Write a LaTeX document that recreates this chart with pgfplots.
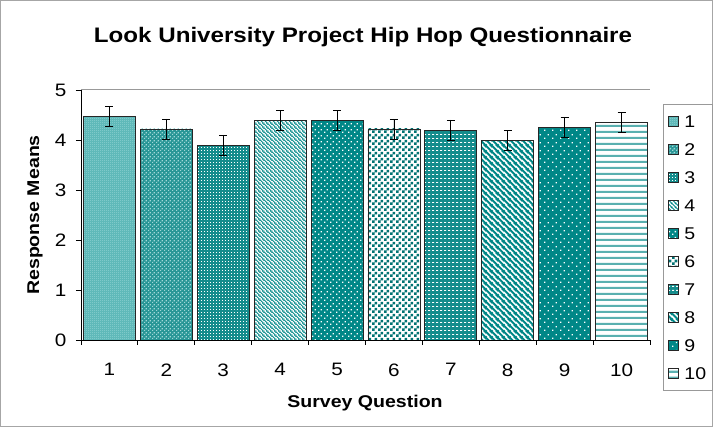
\documentclass[border=0pt]{standalone}
\usepackage{pgfplots}
\pgfplotsset{compat=1.18}
\usepackage{fontspec}
\setmainfont[FakeStretch=1.15]{Liberation Sans}
\usetikzlibrary{patterns}
\definecolor{T}{RGB}{0,135,135}
\definecolor{Ta}{RGB}{95,185,185}
\definecolor{Tap}{RGB}{170,225,225}
\definecolor{Tb}{RGB}{40,150,150}
\definecolor{Tbp}{RGB}{160,215,215}
\definecolor{Tc}{RGB}{20,140,140}
\definecolor{Tk}{RGB}{0,115,115}

\pgfdeclarepatternformonly{dfine}{\pgfqpoint{0pt}{0pt}}{\pgfqpoint{2pt}{2pt}}{\pgfqpoint{2pt}{2pt}}{\pgfpathrectangle{\pgfqpoint{0pt}{0pt}}{\pgfqpoint{1pt}{1pt}}\pgfusepath{fill}}
\pgfdeclarepatternformonly{ddiam}{\pgfqpoint{0pt}{0pt}}{\pgfqpoint{4pt}{4pt}}{\pgfqpoint{4pt}{4pt}}{\pgfpathrectangle{\pgfqpoint{0pt}{0pt}}{\pgfqpoint{1.5pt}{1.5pt}}\pgfpathrectangle{\pgfqpoint{2pt}{2pt}}{\pgfqpoint{1.5pt}{1.5pt}}\pgfusepath{fill}}
\pgfdeclarepatternformonly{dgrid}{\pgfqpoint{0pt}{0pt}}{\pgfqpoint{3pt}{3pt}}{\pgfqpoint{3pt}{3pt}}{\pgfpathrectangle{\pgfqpoint{0pt}{0pt}}{\pgfqpoint{1pt}{1pt}}\pgfusepath{fill}}
\pgfdeclarepatternformonly{dmid}{\pgfqpoint{0pt}{0pt}}{\pgfqpoint{6pt}{6pt}}{\pgfqpoint{6pt}{6pt}}{\pgfpathrectangle{\pgfqpoint{0pt}{0pt}}{\pgfqpoint{1.5pt}{1.5pt}}\pgfpathrectangle{\pgfqpoint{3pt}{3pt}}{\pgfqpoint{1.5pt}{1.5pt}}\pgfusepath{fill}}
\pgfdeclarepatternformonly{checker}{\pgfqpoint{0pt}{0pt}}{\pgfqpoint{6pt}{6pt}}{\pgfqpoint{6pt}{6pt}}{\pgfpathrectangle{\pgfqpoint{0pt}{0pt}}{\pgfqpoint{3pt}{3pt}}\pgfpathrectangle{\pgfqpoint{3pt}{3pt}}{\pgfqpoint{3pt}{3pt}}\pgfusepath{fill}}
\pgfdeclarepatternformonly{dash}{\pgfqpoint{0pt}{0pt}}{\pgfqpoint{4pt}{4pt}}{\pgfqpoint{4pt}{4pt}}{\pgfpathrectangle{\pgfqpoint{0pt}{0pt}}{\pgfqpoint{2.5pt}{1.2pt}}\pgfusepath{fill}}
\pgfdeclarepatternformonly{dsparse}{\pgfqpoint{0pt}{0pt}}{\pgfqpoint{8pt}{8pt}}{\pgfqpoint{8pt}{8pt}}{\pgfpathrectangle{\pgfqpoint{0pt}{0pt}}{\pgfqpoint{1.4pt}{1.4pt}}\pgfpathrectangle{\pgfqpoint{4pt}{4pt}}{\pgfqpoint{1.4pt}{1.4pt}}\pgfusepath{fill}}
\pgfdeclarepatternformonly{nwthin}{\pgfqpoint{0pt}{0pt}}{\pgfqpoint{4pt}{4pt}}{\pgfqpoint{4pt}{4pt}}{\pgfsetlinewidth{1pt}\pgfpathmoveto{\pgfqpoint{-1pt}{5pt}}\pgfpathlineto{\pgfqpoint{5pt}{-1pt}}\pgfpathmoveto{\pgfqpoint{-1pt}{1pt}}\pgfpathlineto{\pgfqpoint{1pt}{-1pt}}\pgfpathmoveto{\pgfqpoint{3pt}{5pt}}\pgfpathlineto{\pgfqpoint{5pt}{3pt}}\pgfusepath{stroke}}
\pgfdeclarepatternformonly{nwthick}{\pgfqpoint{0pt}{0pt}}{\pgfqpoint{6pt}{6pt}}{\pgfqpoint{6pt}{6pt}}{\pgfsetlinewidth{2.2pt}\pgfpathmoveto{\pgfqpoint{-1pt}{7pt}}\pgfpathlineto{\pgfqpoint{7pt}{-1pt}}\pgfpathmoveto{\pgfqpoint{-2pt}{2pt}}\pgfpathlineto{\pgfqpoint{2pt}{-2pt}}\pgfpathmoveto{\pgfqpoint{4pt}{8pt}}\pgfpathlineto{\pgfqpoint{8pt}{4pt}}\pgfusepath{stroke}}
\pgfdeclarepatternformonly{hstripe}{\pgfqpoint{0pt}{0pt}}{\pgfqpoint{1pt}{6pt}}{\pgfqpoint{1pt}{6pt}}{\pgfpathrectangle{\pgfqpoint{0pt}{0pt}}{\pgfqpoint{1pt}{2.6pt}}\pgfusepath{fill}}

\begin{document}
\begin{tikzpicture}
\useasboundingbox (-81pt,-87pt) rectangle (632pt,340pt);
\draw[gray!70, line width=1pt] (-80.5pt,-86.5pt) rectangle (631.5pt,339.5pt);
\begin{axis}[
  at={(0pt,0pt)}, anchor=south west,
  scale only axis, width=569pt, height=250pt,
  xmin=0.5, xmax=10.5, ymin=0, ymax=5,
  axis x line*=bottom, axis y line*=left,
  axis line style={black, line width=0.8pt},
  tick align=outside, major tick length=5pt,
  tick style={black, line width=0.8pt},
  xtick={0.5,1.5,2.5,3.5,4.5,5.5,6.5,7.5,8.5,9.5},
  xticklabels={1,2,3,4,5,6,7,8,9,10},
  xticklabel style={xshift=28.45pt, yshift=-15pt, font=\fontsize{18}{21}\selectfont},
  extra x ticks={10.5}, extra x tick labels={},
  ytick={0,1,2,3,4,5},
  yticklabel style={font=\fontsize{18}{21}\selectfont, xshift=-6pt},
  extra y ticks={5}, extra y tick labels={},
  extra y tick style={grid=major, major grid style={gray!80, line width=1pt}},
  /pgf/number format/assume math mode=true,
  legend style={at={(1.0228,0.944)}, anchor=north west, draw=gray!80, line width=0.6pt,
    font=\fontsize{17}{20}\selectfont, row sep=13.5pt, inner xsep=5pt, inner ysep=10pt,
    nodes={inner sep=1.5pt, text height=11.5pt, text depth=0pt}, cells={anchor=west}},
  legend image code/.code={\draw[#1, line width=0.5pt] (0pt,-5pt) rectangle (10pt,5pt); \path (14pt,0pt);},
  every axis plot/.append style={ybar, bar width=52pt, bar shift=0pt, draw=black!85, line width=0.8pt},
  error bars/y dir=both, error bars/y explicit,
  error bars/error bar style={black, line width=0.8pt},
  error bars/error mark options={black, rotate=90, mark size=4pt, line width=0.8pt},
]
\addplot[fill=Ta, postaction={pattern=dfine, pattern color=Tap}] coordinates {(1,4.47) +- (0,0.2)};
\addlegendentry{1}
\addplot[fill=Tb, postaction={pattern=ddiam, pattern color=Tbp}] coordinates {(2,4.22) +- (0,0.2)};
\addlegendentry{2}
\addplot[fill=Tc, postaction={pattern=dgrid, pattern color=white}] coordinates {(3,3.90) +- (0,0.2)};
\addlegendentry{3}
\addplot[fill=white, postaction={pattern=nwthin, pattern color=T}] coordinates {(4,4.39) +- (0,0.2)};
\addlegendentry{4}
\addplot[fill=T, postaction={pattern=dmid, pattern color=white}] coordinates {(5,4.39) +- (0,0.2)};
\addlegendentry{5}
\addplot[fill=white, postaction={pattern=checker, pattern color=Tk}] coordinates {(6,4.22) +- (0,0.2)};
\addlegendentry{6}
\addplot[fill=Tc, postaction={pattern=dash, pattern color=white}] coordinates {(7,4.20) +- (0,0.2)};
\addlegendentry{7}
\addplot[fill=white, postaction={pattern=nwthick, pattern color=T}] coordinates {(8,3.99) +- (0,0.2)};
\addlegendentry{8}
\addplot[fill=T, postaction={pattern=dsparse, pattern color=white}] coordinates {(9,4.26) +- (0,0.2)};
\addlegendentry{9}
\addplot[fill=white, postaction={pattern=hstripe, pattern color=T}] coordinates {(10,4.35) +- (0,0.2)};
\addlegendentry{10}
\end{axis}
\node[font=\fontsize{21}{25}\selectfont\bfseries] at (282pt,303pt) {Look University Project Hip Hop Questionnaire};
\node[font=\fontsize{17}{20}\selectfont\bfseries] at (284pt,-63pt) {Survey Question};
\node[font=\fontsize{17}{20}\selectfont\bfseries, rotate=90] at (-46pt,125pt) {Response Means};
\end{tikzpicture}
\end{document}
